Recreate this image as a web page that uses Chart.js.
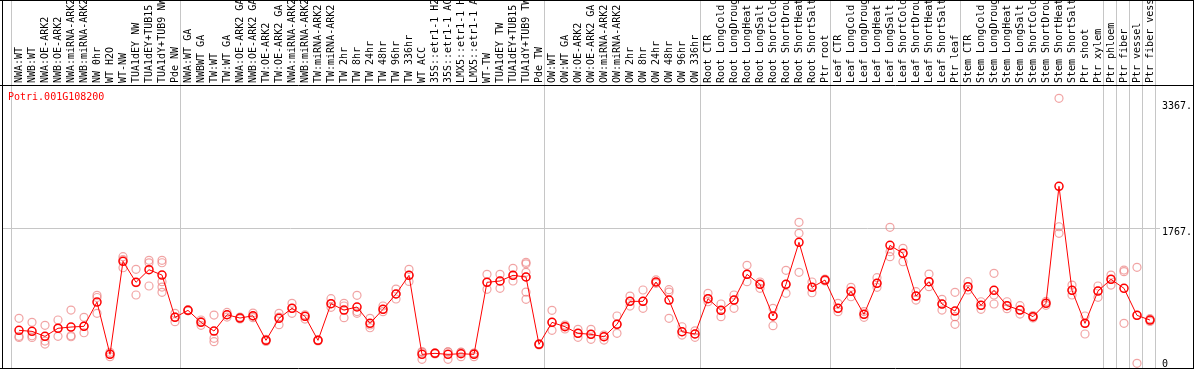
<!DOCTYPE html>
<html>
<head>
  <meta charset="UTF-8" />
  <title>Potri.001G108200</title>
  <script src="https://cdn.jsdelivr.net/npm/chart.js"></script>
  <style>
    body { margin: 0; background: #fff; }
    canvas { display: block; }
  </style>
</head>
<body>
  <canvas id="efpChart" width="1194" height="370"></canvas>

  <script>
    const geneId = 'Potri.001G108200';

    const sampleLabels = [
      'NWA:WT', 'NWB:WT', 'NWA:OE-ARK2', 'NWB:OE-ARK2', 'NWA:miRNA-ARK2', 'NWB:miRNA-ARK2',
      'NW 0hr', 'WT H2O', 'WT-NW', 'TUA1dEY NW', 'TUA1dEY+TUB15', 'TUA1dY+TUB9 NW', 'Pde NW',
      'NWA:WT GA', 'NWBWT GA', 'TW:WT', 'TW:WT GA', 'NWA:OE-ARK2 GA', 'NWB:OE-ARK2 GA',
      'TW:OE-ARK2', 'TW:OE-ARK2 GA', 'NWA:miRNA-ARK2', 'NWB:miRNA-ARK2', 'TW:miRNA-ARK2',
      'TW:miRNA-ARK2', 'TW 2hr', 'TW 8hr', 'TW 24hr', 'TW 48hr', 'TW 96hr', 'TW 336hr',
      'WT ACC', '35S::etr1-1 H2', '35S::etr1-1 AC', 'LMX5::etr1-1 H', 'LMX5::etr1-1 A',
      'WT-TW', 'TUA1dEY TW', 'TUA1dEY+TUB15', 'TUA1dY+TUB9 TW', 'Pde TW',
      'OW:WT', 'OW:WT GA', 'OW:OE-ARK2', 'OW:OE-ARK2 GA', 'OW:miRNA-ARK2', 'OW:miRNA-ARK2',
      'OW 2hr', 'OW 8hr', 'OW 24hr', 'OW 48hr', 'OW 96hr', 'OW 336hr',
      'Root CTR', 'Root LongCold', 'Root LongDroug', 'Root LongHeat', 'Root LongSalt',
      'Root ShortCold', 'Root ShortDrou', 'Root ShortHeat', 'Root ShortSalt', 'Ptr root',
      'Leaf CTR', 'Leaf LongCold', 'Leaf LongDroug', 'Leaf LongHeat', 'Leaf LongSalt',
      'Leaf ShortCold', 'Leaf ShortDrou', 'Leaf ShortHeat', 'Leaf ShortSalt', 'Ptr leaf',
      'Stem CTR', 'Stem LongCold', 'Stem LongDroug', 'Stem LongHeat', 'Stem LongSalt',
      'Stem ShortCold', 'Stem ShortDrou', 'Stem ShortHeat', 'Stem ShortSalt', 'Ptr shoot',
      'Ptr xylem', 'Ptr phloem', 'Ptr fiber', 'Ptr vessel', 'Ptr fiber vess'
    ];

    // first sample index of each group (plus the end)
    const groupStarts = [0, 13, 41, 53, 63, 73, 84, 85, 86, 87, 88];

    const meanValues = [
      461, 448, 384, 487, 503, 512, 822, 154, 1342, 1074, 1235, 1167, 627,
      716, 563, 452, 660, 618, 647, 333, 614, 742, 640, 333, 801, 720, 759, 550,
      729, 925, 1163, 154, 167, 154, 162, 154, 1074, 1091, 1163, 1142, 282,
      563, 507, 423, 410, 379, 538, 831, 831, 1078, 848, 443, 414,
      865, 716, 848, 1176, 1048, 644, 1048, 1585, 1010, 1103,
      742, 959, 665, 1061, 1546, 1444, 899, 1082, 797, 707,
      1018, 780, 972, 776, 720, 635, 806, 2300, 972, 550, 963,
      1112, 997, 652, 592
    ];

    const replicateValues = [
      [614, 384, 371], [563, 392, 371], [525, 324, 286], [593, 487, 384], [720, 392, 379],
      [627, 516, 430], [908, 880, 678], [180, 158, 124], [1401, 1365, 1260], [1240, 1070, 912],
      [1355, 1323, 1027], [1355, 1324, 1082, 1014, 946], [678, 632, 571],
      [725, 713, 710], [593, 572, 525], [656, 359, 316], [690, 660, 630], [630, 618, 606],
      [682, 640, 622], [345, 333, 320], [678, 630, 533], [806, 742, 678], [660, 640, 605],
      [340, 333, 326], [865, 801, 755], [806, 772, 623], [908, 700, 678], [614, 529, 494],
      [772, 729, 699], [988, 925, 861], [1240, 1163, 1085], [190, 180, 91], [175, 167, 160],
      [185, 186, 91], [180, 182, 124], [170, 168, 124], [1176, 1074, 985], [1176, 1091, 997],
      [1253, 1163, 1091], [1329, 1310, 1202, 1142, 950, 857], [290, 282, 275],
      [716, 563, 461], [529, 515, 478], [474, 423, 372], [474, 410, 346], [400, 379, 337],
      [644, 538, 423], [899, 831, 771], [976, 831, 742], [1105, 1078, 1061], [980, 950, 614],
      [507, 443, 401], [455, 414, 372],
      [933, 865, 826], [797, 716, 635], [912, 848, 742], [1291, 1176, 1082], [1078, 1048, 997],
      [742, 644, 520], [1227, 1048, 933], [1840, 1700, 1202], [1078, 1010, 941], [1115, 1103, 1091],
      [806, 742, 699], [1010, 959, 890], [700, 665, 627], [1133, 1061, 1010], [1776, 1465, 1401],
      [1508, 1444, 1337], [954, 899, 848], [1180, 1082, 1018], [857, 797, 720], [946, 635, 538],
      [1082, 1018, 976], [826, 780, 729], [1189, 912, 797], [826, 776, 738], [776, 720, 669],
      [650, 635, 620], [830, 806, 780], [3424, 1784, 1700], [1039, 972, 912], [644, 550, 414],
      [1027, 963, 882], [1167, 1112, 1039], [1231, 1210, 550], [1265, 652, 40], [610, 592, 574]
    ];

    const yTicks = [0, 1767, 3367];
    const gridValues = [1767];

    const monoFont = { family: '"DejaVu Sans Mono", monospace', size: 10 };
    const yMin = -20, yMax = 3581;
    const xMin = -1.3077, xMax = 87.462;

    const meanPoints = meanValues.map((v, i) => ({ x: i, y: v }));
    const repPoints = replicateValues.flatMap((vals, i) => vals.map(v => ({ x: i, y: v })));

    // the scales reserve room for half a label at their ends; the plot runs to the frame here
    const noEndPadding = ax => {
      ax.paddingTop = 0; ax.paddingBottom = 0;
      ax.paddingLeft = 0; ax.paddingRight = 0;
    };

    const framePlugin = {
      id: 'frame',
      beforeDatasetsDraw(chart) {
        const { ctx, chartArea, scales } = chart;
        ctx.save();
        ctx.strokeStyle = '#c6c6c6';
        ctx.lineWidth = 1;
        groupStarts.forEach(s => {
          const px = Math.round(scales.x.getPixelForValue(s - 0.5) - 1.5) + 0.5;
          ctx.beginPath();
          ctx.moveTo(px, 0);
          ctx.lineTo(px, chartArea.bottom);
          ctx.stroke();
        });
        ctx.restore();
      },
      afterDraw(chart) {
        const { ctx, chartArea, width } = chart;
        ctx.save();
        ctx.strokeStyle = '#000';
        ctx.lineWidth = 1;
        ctx.beginPath();
        ctx.moveTo(0, 0.5); ctx.lineTo(width, 0.5);
        ctx.moveTo(0, chartArea.top - 0.5); ctx.lineTo(width, chartArea.top - 0.5);
        ctx.moveTo(0, chartArea.bottom + 0.5); ctx.lineTo(width, chartArea.bottom + 0.5);
        ctx.moveTo(2.5, 0); ctx.lineTo(2.5, chartArea.bottom + 1);
        ctx.moveTo(width - 0.5, 0); ctx.lineTo(width - 0.5, chartArea.bottom + 1);
        ctx.stroke();

        ctx.fillStyle = '#ff0000';
        ctx.font = '10px "DejaVu Sans Mono", monospace';
        ctx.textBaseline = 'middle';
        ctx.fillText(geneId, 8, chartArea.top + 11.5);
        ctx.restore();
      }
    };

    new Chart(document.getElementById('efpChart'), {
      type: 'line',
      data: {
        datasets: [
          {
            label: 'mean',
            data: meanPoints,
            borderColor: '#ff0000',
            borderWidth: 1,
            pointRadius: 4,
            pointBorderWidth: 1.5,
            pointBorderColor: '#ff0000',
            pointBackgroundColor: 'rgba(255,255,255,0)',
            tension: 0
          },
          {
            label: 'replicates',
            data: repPoints,
            showLine: false,
            pointRadius: 4,
            pointBorderWidth: 1.2,
            pointBorderColor: 'rgba(235,125,125,0.7)',
            pointBackgroundColor: 'rgba(255,255,255,0)'
          }
        ]
      },
      options: {
        responsive: false,
        maintainAspectRatio: false,
        animation: false,
        layout: { autoPadding: false, padding: { left: 2, right: 0, top: 0, bottom: 2 } },
        plugins: {
          legend: { display: false },
          tooltip: { enabled: false }
        },
        scales: {
          x: {
            type: 'linear',
            position: 'top',
            min: xMin,
            max: xMax,
            grid: { display: false, drawTicks: false },
            border: { display: false },
            afterBuildTicks: ax => { ax.ticks = sampleLabels.map((_, i) => ({ value: i })); },
            afterFit: ax => { ax.height = 86; noEndPadding(ax); },
            ticks: {
              autoSkip: false,
              minRotation: 90,
              maxRotation: 90,
              padding: 3,
              labelOffset: 12,
              color: '#000',
              font: monoFont,
              callback: v => sampleLabels[v]
            }
          },
          y: {
            position: 'right',
            min: yMin,
            max: yMax,
            afterBuildTicks: ax => { ax.ticks = yTicks.map(v => ({ value: v })); },
            afterFit: ax => { ax.width = 38; noEndPadding(ax); },
            border: { display: false },
            grid: {
              color: c => gridValues.includes(c.tick && c.tick.value) ? '#c6c6c6' : 'rgba(0,0,0,0)',
              drawTicks: true,
              tickLength: 4
            },
            ticks: {
              padding: 2,
              labelOffset: 4,
              color: '#000',
              font: monoFont,
              // zero label sits above its line, the others below
              callback: v => (v === 0 ? ['0', ''] : v + '.')
            }
          }
        }
      },
      plugins: [framePlugin]
    });
  </script>
</body>
</html>
